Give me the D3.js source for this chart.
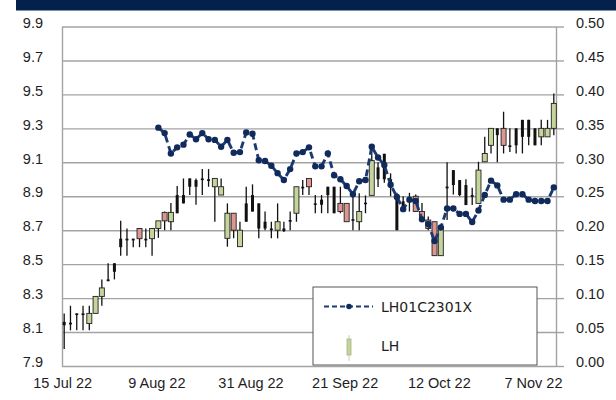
<!DOCTYPE html>
<html>
<head>
<meta charset="utf-8">
<script src="https://cdn.jsdelivr.net/npm/d3@7"></script>
<style>
  body { margin: 0; background: #fff; }
  svg { display: block; font-family: "DejaVu Sans", sans-serif; }
</style>
</head>
<body>
<svg id="chart"></svg>
<script>
// Data
const dates = [
  "2022-07-15","2022-07-18","2022-07-19","2022-07-20","2022-07-21","2022-07-25","2022-07-26","2022-07-27",
  "2022-07-28","2022-07-29","2022-08-01","2022-08-02","2022-08-03","2022-08-04","2022-08-08","2022-08-09",
  "2022-08-10","2022-08-11","2022-08-12","2022-08-15","2022-08-16","2022-08-17","2022-08-18","2022-08-22",
  "2022-08-23","2022-08-24","2022-08-25","2022-08-26","2022-08-29","2022-08-30","2022-08-31","2022-09-01",
  "2022-09-02","2022-09-05","2022-09-06","2022-09-07","2022-09-08","2022-09-09","2022-09-12","2022-09-13",
  "2022-09-14","2022-09-15","2022-09-16","2022-09-19","2022-09-20","2022-09-21","2022-09-22","2022-09-23",
  "2022-09-26","2022-09-27","2022-09-28","2022-09-29","2022-09-30","2022-10-03","2022-10-04","2022-10-05",
  "2022-10-06","2022-10-07","2022-10-10","2022-10-11","2022-10-12","2022-10-13","2022-10-17","2022-10-18",
  "2022-10-19","2022-10-20","2022-10-24","2022-10-25","2022-10-26","2022-10-27","2022-10-31","2022-11-01",
  "2022-11-02","2022-11-03","2022-11-04","2022-11-07","2022-11-08","2022-11-09","2022-11-10"
];

// LH futures, open / high / low / close
const open = [
  8.16, 8.155, 8.21, 8.21, 8.15, 8.21, 8.31, 8.41, 8.505, 8.65, 8.65, 8.65, 8.71, 8.65, 8.65, 8.71,
  8.805, 8.75, 8.907, 8.907, 9.005, 8.995, 9.005, 9.0, 8.956, 8.907, 8.652, 8.80, 8.603, 8.858, 8.907, 8.858,
  8.75, 8.71, 8.70, 8.71, 8.76, 8.80, 8.956, 9.005, 8.858, 8.88, 8.956, 8.956, 8.858, 8.858, 8.765, 8.75,
  8.862, 8.905, 9.07, 9.15, 9.0, 8.905, 8.87, 8.89, 8.90, 8.81, 8.76, 8.75, 8.55, 8.957, 9.054, 8.995,
  8.966, 8.907, 8.858, 9.103, 9.20, 9.30, 9.30, 9.20, 9.30, 9.35, 9.35, 9.30, 9.25, 9.25, 9.30
];
const high = [
  8.21, 8.255, 8.21, 8.255, 8.255, 8.31, 8.41, 8.505, 8.505, 8.755, 8.71, 8.65, 8.71, 8.71, 8.71, 8.755,
  8.81, 8.86, 8.96, 9.005, 9.005, 9.005, 9.06, 9.06, 9.005, 9.005, 8.858, 8.80, 8.75, 8.956, 8.97, 8.858,
  8.81, 8.75, 8.858, 8.75, 8.81, 8.956, 8.995, 9.005, 8.907, 8.907, 8.956, 8.956, 8.956, 8.858, 8.90, 8.917,
  8.905, 9.18, 9.10, 9.15, 9.035, 8.92, 8.90, 8.92, 8.91, 8.86, 8.78, 8.75, 8.73, 9.10, 9.054, 8.995,
  9.0, 8.95, 9.103, 9.25, 9.30, 9.30, 9.398, 9.30, 9.30, 9.35, 9.35, 9.30, 9.35, 9.35, 9.506
];
const low = [
  8.00, 8.11, 8.11, 8.11, 8.11, 8.21, 8.255, 8.40, 8.41, 8.55, 8.55, 8.60, 8.60, 8.60, 8.55, 8.655,
  8.70, 8.70, 8.80, 8.858, 8.907, 8.85, 8.907, 8.956, 8.75, 8.907, 8.603, 8.652, 8.603, 8.75, 8.81, 8.652,
  8.70, 8.652, 8.652, 8.69, 8.70, 8.75, 8.907, 8.907, 8.80, 8.80, 8.80, 8.80, 8.80, 8.75, 8.70, 8.70,
  8.80, 8.905, 8.955, 8.98, 8.90, 8.70, 8.81, 8.81, 8.81, 8.75, 8.70, 8.55, 8.55, 8.76, 8.91, 8.90,
  8.848, 8.848, 8.858, 9.103, 9.152, 9.10, 9.152, 9.16, 9.152, 9.152, 9.20, 9.20, 9.20, 9.25, 9.26
];
const close = [
  8.14, 8.145, 8.20, 8.20, 8.21, 8.31, 8.36, 8.40, 8.455, 8.60, 8.64, 8.64, 8.65, 8.64, 8.71, 8.755,
  8.755, 8.805, 8.80, 8.858, 8.956, 8.956, 8.995, 8.99, 9.005, 8.956, 8.80, 8.70, 8.70, 8.75, 8.81, 8.71,
  8.71, 8.70, 8.75, 8.695, 8.75, 8.956, 8.946, 8.956, 8.85, 8.85, 8.907, 8.80, 8.81, 8.75, 8.755, 8.81,
  8.854, 9.11, 9.0, 9.0, 8.95, 8.70, 8.82, 8.87, 8.81, 8.76, 8.71, 8.55, 8.72, 8.947, 8.966, 8.907,
  8.848, 8.897, 9.054, 9.152, 9.30, 9.26, 9.20, 9.19, 9.20, 9.25, 9.25, 9.20, 9.30, 9.30, 9.447
];
// sessions shown as solid bars
const solidBars = [
  1, 1, 1, 1, 0, 0, 0, 1, 1, 1, 1, 1, 0, 1, 0, 0,
  0, 0, 1, 1, 1, 1, 1, 1, 0, 0, 0, 0, 0, 1, 1, 1,
  1, 1, 0, 1, 1, 0, 1, 0, 1, 1, 1, 1, 0, 0, 1, 0,
  1, 0, 1, 1, 1, 1, 1, 1, 0, 0, 0, 0, 0, 1, 1, 1,
  1, 1, 0, 0, 0, 1, 0, 1, 1, 1, 1, 1, 0, 0, 0
];

// LH01C2301X, from 9 Aug 22
const optionStart = "2022-08-09";
const optionValues = [
  0.351, 0.343, 0.313, 0.322, 0.326, 0.341, 0.334, 0.343, 0.334, 0.333, 0.323, 0.333, 0.314, 0.315, 0.344, 0.342,
  0.303, 0.302, 0.295, 0.284, 0.274, 0.290, 0.313, 0.315, 0.322, 0.294, 0.294, 0.313, 0.281, 0.275, 0.265, 0.253,
  0.272, 0.274, 0.323, 0.307, 0.296, 0.267, 0.249, 0.231, 0.245, 0.243, 0.216, 0.209, 0.184, 0.204, 0.232, 0.232,
  0.224, 0.224, 0.212, 0.229, 0.252, 0.273, 0.266, 0.245, 0.245, 0.253, 0.253, 0.245, 0.243, 0.243, 0.243, 0.263
];

const leftTicks = [7.9, 8.1, 8.3, 8.5, 8.7, 8.9, 9.1, 9.3, 9.5, 9.7, 9.9];
const rightTicks = [0, 0.05, 0.1, 0.15, 0.2, 0.25, 0.3, 0.35, 0.4, 0.45, 0.5];
const tickDates = ["2022-07-15", "2022-08-09", "2022-08-31", "2022-09-21", "2022-10-12", "2022-11-07"];
const seriesNames = ["LH01C2301X", "LH"];

// Chart
const W = 616, H = 400;
const margin = { top: 26.5, right: 60, bottom: 34, left: 62 };
const width = W - margin.left - margin.right;
const height = H - margin.top - margin.bottom;

const root = d3.select("#chart").attr("width", W).attr("height", H);

// header band
root.append("rect")
  .attr("x", 16).attr("y", 0).attr("width", W - 16).attr("height", 10.5)
  .attr("fill", "#03214c");

const svg = root.append("g")
  .attr("transform", `translate(${margin.left},${margin.top})`);

const x = d3.scalePoint().domain(dates).range([0, width]).padding(0.35);
const y = d3.scaleLinear().domain([7.9, 9.9]).range([height, 0]);
const y2 = d3.scaleLinear().domain([0, 0.5]).range([height, 0]);

const gridColor = "#a3a3a3";
const textColor = "#1e1e1e";

// left axis + grid
const left = svg.append("g")
  .call(d3.axisLeft(y).tickValues(leftTicks).tickFormat(d3.format(".1f"))
    .tickSize(-width).tickSizeOuter(0).tickPadding(19));
left.selectAll(".tick line").attr("stroke", gridColor).attr("stroke-width", 1.4);
left.select(".domain").attr("stroke", gridColor).attr("stroke-width", 1.4);

// right axis
const right = svg.append("g")
  .attr("transform", `translate(${width},0)`)
  .call(d3.axisRight(y2).tickValues(rightTicks).tickFormat(d3.format(".2f"))
    .tickSize(8).tickSizeOuter(0).tickPadding(12));
right.selectAll(".tick line").attr("stroke", gridColor).attr("stroke-width", 1.4);
right.select(".domain").attr("stroke", gridColor).attr("stroke-width", 1.4);

svg.selectAll(".tick text")
  .attr("fill", textColor)
  .attr("font-size", 14.5)
  .attr("dy", "0.05em");

// bottom labels
const bottom = svg.append("g")
  .attr("transform", `translate(0,${height})`)
  .call(d3.axisBottom(x).tickValues(tickDates)
    .tickFormat(d => d3.timeFormat("%-d %b %y")(d3.timeParse("%Y-%m-%d")(d)))
    .tickSize(0).tickPadding(12));
bottom.select(".domain").remove();
bottom.selectAll("text").attr("fill", textColor).attr("font-size", 14.5).attr("dx", -2);

// candles
const candles = dates.map((d, i) => ({ d, o: open[i], h: high[i], l: low[i], c: close[i], solid: solidBars[i] === 1 }));

const cg = svg.append("g");
cg.selectAll("line")
  .data(candles)
  .enter().append("line")
  .attr("x1", d => x(d.d)).attr("x2", d => x(d.d))
  .attr("y1", d => y(d.h)).attr("y2", d => y(d.l))
  .attr("stroke", "#111").attr("stroke-width", 1.3);

cg.selectAll("rect")
  .data(candles)
  .enter().append("rect")
  .attr("x", d => x(d.d) - (d.solid ? 1.5 : 2.5))
  .attr("width", d => d.solid ? 3 : 5)
  .attr("y", d => y(Math.max(d.o, d.c)))
  .attr("height", d => Math.max(1.5, Math.abs(y(d.o) - y(d.c))))
  .attr("fill", d => d.solid ? "#111" : (d.c >= d.o ? "#c4d49a" : "#dc9792"))
  .attr("stroke", d => d.solid ? "none" : "#222")
  .attr("stroke-width", 0.9);

// option line
const optDates = dates.slice(dates.indexOf(optionStart));
const opt = optDates.map((d, i) => ({ d, v: optionValues[i] }));

const line = d3.line().x(d => x(d.d)).y(d => y2(d.v));

svg.append("path")
  .datum(opt)
  .attr("d", line)
  .attr("fill", "none")
  .attr("stroke", "#1c3a72")
  .attr("stroke-width", 2.9)
  .attr("stroke-dasharray", "7,4");

svg.selectAll(".dot")
  .data(opt)
  .enter().append("circle")
  .attr("class", "dot")
  .attr("cx", d => x(d.d)).attr("cy", d => y2(d.v))
  .attr("r", 3.2)
  .attr("fill", "#102a5c");

// legend
const lg = root.append("g").attr("transform", "translate(313,287)");
lg.append("rect")
  .attr("width", 224).attr("height", 78)
  .attr("fill", "#fff").attr("stroke", "#555").attr("stroke-width", 1);
lg.append("line")
  .attr("x1", 11).attr("x2", 60).attr("y1", 19.5).attr("y2", 19.5)
  .attr("stroke", "#1c3a72").attr("stroke-width", 2.2).attr("stroke-dasharray", "5,3");
lg.append("circle").attr("cx", 36).attr("cy", 19.5).attr("r", 2.8).attr("fill", "#102a5c");
lg.append("line")
  .attr("x1", 36).attr("x2", 36).attr("y1", 48).attr("y2", 74)
  .attr("stroke", "#c8ccc0").attr("stroke-width", 1);
lg.append("rect")
  .attr("x", 34).attr("y", 52).attr("width", 4).attr("height", 16)
  .attr("fill", "#c4d49a").attr("stroke", "#a8b484").attr("stroke-width", 0.8);
lg.selectAll("text.lbl")
  .data(seriesNames)
  .enter().append("text")
  .attr("class", "lbl")
  .attr("x", 68)
  .attr("y", (d, i) => i === 0 ? 24.5 : 64)
  .attr("font-size", 14)
  .attr("fill", textColor)
  .text(d => d);
</script>
</body>
</html>
